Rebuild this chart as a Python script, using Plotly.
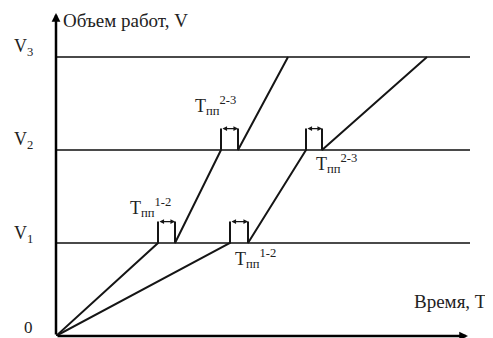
import plotly.graph_objects as go

# Volume levels V1..V3 and time moments
v_levels = [1, 2, 3]
v_names = ["V<sub>1</sub>", "V<sub>2</sub>", "V<sub>3</sub>"]

# first flow: time of reaching each level, time of resuming after transition pause
flow1_reach = [10.2, 16.5, 23.2]
flow1_resume = [11.9, 18.2]

# second flow
flow2_reach = [17.4, 25.0, 37.1]
flow2_resume = [19.2, 26.6]

pause_labels = ["T<sub>пп</sub><sup>1-2</sup>", "T<sub>пп</sub><sup>2-3</sup>"]

X_MAX = 41.4
Y_MAX = 3.473
BRACKET_H = 0.23
FONT = "Liberation Serif, Times New Roman, DejaVu Serif, serif"
INK = "#151515"


def flow_path(reach, resume):
    xs, ys = [0], [0]
    for i, v in enumerate(v_levels):
        xs.append(reach[i])
        ys.append(v)
        if i < len(resume):
            xs += [reach[i], None, resume[i], resume[i]]
            ys += [v + BRACKET_H, None, v + BRACKET_H, v]
    return xs, ys


fig = go.Figure()

# horizontal level lines
for v in v_levels:
    fig.add_trace(go.Scatter(x=[0, X_MAX], y=[v, v], mode="lines",
                             line=dict(color="#4a4a4a", width=2), hoverinfo="skip"))

for reach, resume in [(flow1_reach, flow1_resume), (flow2_reach, flow2_resume)]:
    xs, ys = flow_path(reach, resume)
    fig.add_trace(go.Scatter(x=xs, y=ys, mode="lines",
                             line=dict(color=INK, width=2), hoverinfo="skip"))
    # double arrows over the transition pauses
    for i in range(len(resume)):
        fig.add_annotation(x=resume[i], y=v_levels[i] + BRACKET_H,
                           ax=reach[i], ay=v_levels[i] + BRACKET_H,
                           xref="x", yref="y", axref="x", ayref="y",
                           showarrow=True, arrowhead=2, arrowside="end+start",
                           arrowsize=0.7, arrowwidth=1.3, arrowcolor=INK, text="")

# axes with arrows
fig.add_annotation(x=0, y=Y_MAX, ax=0, ay=0, xref="x", yref="y", axref="x", ayref="y",
                   showarrow=True, arrowhead=2, arrowsize=0.7, arrowwidth=2.5,
                   arrowcolor="black", text="")
fig.add_annotation(x=41.2, y=0, ax=0, ay=0, xref="x", yref="y", axref="x", ayref="y",
                   showarrow=True, arrowhead=2, arrowsize=0.7, arrowwidth=2.5,
                   arrowcolor="black", text="")

# level names
for v, name in zip(v_levels, v_names):
    fig.add_annotation(x=0, y=v, xshift=-33, yshift=9, text=name, showarrow=False,
                       font=dict(family=FONT, size=18, color="#222"))
fig.add_annotation(x=0, y=0, xshift=-28, yshift=9, text="0", showarrow=False,
                   font=dict(family=FONT, size=17, color="#222"))

# pause labels
fig.add_annotation(x=9.4, y=1, yshift=36, text=pause_labels[0], showarrow=False,
                   font=dict(family=FONT, size=18, color="#222"))
fig.add_annotation(x=15.9, y=2, yshift=44, text=pause_labels[1], showarrow=False,
                   font=dict(family=FONT, size=18, color="#222"))
fig.add_annotation(x=19.9, y=1, yshift=-15, text=pause_labels[0], showarrow=False,
                   font=dict(family=FONT, size=18, color="#222"))
fig.add_annotation(x=28.0, y=2, yshift=-14, text=pause_labels[1], showarrow=False,
                   font=dict(family=FONT, size=18, color="#222"))

# axis titles
fig.add_annotation(x=0.5, y=3.39, text="Объем работ, V", showarrow=False,
                   xanchor="left", font=dict(family=FONT, size=19, color="#222"))
fig.add_annotation(x=35.6, y=0.37, text="Время, T", showarrow=False,
                   xanchor="left", font=dict(family=FONT, size=19, color="#222"))

fig.update_xaxes(visible=False, range=[0, X_MAX])
fig.update_yaxes(visible=False, range=[0, Y_MAX])
# page body keeps its default 8px margin, so the figure is 8px smaller
fig.update_layout(width=485, height=330, showlegend=False,
                  margin=dict(l=48, r=23, t=5, b=2),
                  plot_bgcolor="white", paper_bgcolor="white")

fig.write_html("out.html")
